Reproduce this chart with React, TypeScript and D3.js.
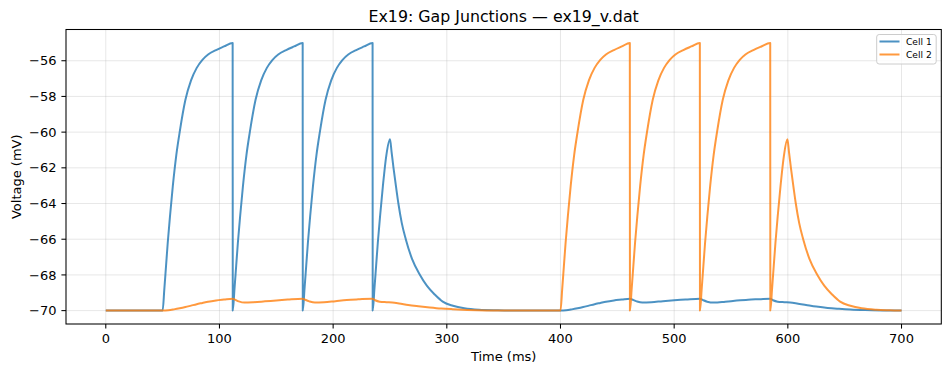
import React from "react";
import * as d3 from "d3";

// axis ticks
const xTicks = [0, 100, 200, 300, 400, 500, 600, 700];
const yTicks = [-70, -68, -66, -64, -62, -60, -58, -56];
const seriesNames = ["Cell 1", "Cell 2"];
const seriesColors = ["#1f77b4", "#ff7f0e"];

// [time ms, voltage mV]
const cell1: [number, number][] = [
  [0, -70], [50, -70],
  [51.5, -68.8], [53, -67.5], [54.5, -66.2], [56.5, -64.7], [59, -63.0], [62, -61.3], [65, -60.0], [70, -58.2],
  [75, -57.1], [80, -56.4], [85, -55.95], [90, -55.65], [97, -55.4], [104, -55.2], [111.6, -55.0], [111.7, -70],
  [113.2, -68.8], [114.7, -67.5], [116.2, -66.2], [118.2, -64.7], [120.7, -63.0], [123.7, -61.3], [126.7, -60.0],
  [131.7, -58.2], [136.7, -57.1], [141.7, -56.4], [146.7, -55.95], [151.7, -55.65], [158.7, -55.4], [165.7, -55.2],
  [173.2, -55.0], [173.3, -70],
  [174.8, -68.8], [176.3, -67.5], [177.8, -66.2], [179.8, -64.7], [182.3, -63.0], [185.3, -61.3], [188.3, -60.0],
  [193.3, -58.2], [198.3, -57.1], [203.3, -56.4], [208.3, -55.95], [213.3, -55.65], [220.3, -55.4], [227.3, -55.2],
  [234.7, -55.0], [234.8, -70],
  [236.3, -68.8], [237.8, -67.5], [239.3, -66.2], [241.3, -64.7], [243.8, -63.0], [246.8, -61.3], [250.0, -60.4],
  [251.4, -61.1], [253.1, -62.0], [255.4, -63.1], [257.4, -64.0], [260.4, -65.1], [263.9, -66.0], [269.4, -67.1],
  [276.4, -68.0], [282.4, -68.6], [289.4, -69.1], [296.4, -69.5], [305.4, -69.73], [315.4, -69.87], [328.4, -69.95],
  [345, -69.98], [370, -70], [400, -70],
  [405, -69.98], [410, -69.93], [415, -69.87], [420, -69.8], [425, -69.72], [430, -69.64], [435, -69.57],
  [440, -69.5], [447, -69.43], [454, -69.38], [461, -69.33],
  [463, -69.38], [467, -69.48], [472, -69.55], [480, -69.53], [490, -69.47], [500, -69.42], [510, -69.38], [522.6, -69.33],
  [525, -69.4], [529, -69.5], [535, -69.55], [545, -69.5], [555, -69.44], [565, -69.39], [575, -69.36], [584.5, -69.33],
  [587, -69.42], [591, -69.5], [597, -69.53], [602, -69.55], [608, -69.6], [616, -69.68], [625, -69.77], [635, -69.85],
  [645, -69.9], [655, -69.94], [668, -69.97], [685, -69.99], [700, -70],
];

const cell2: [number, number][] = [
  [0, -70], [50, -70],
  [55, -69.98], [60, -69.93], [65, -69.87], [70, -69.8], [75, -69.72], [80, -69.64], [85, -69.57], [90, -69.5],
  [97, -69.43], [104, -69.38], [111.6, -69.33],
  [113.5, -69.38], [117, -69.48], [122, -69.55], [130, -69.53], [140, -69.48], [150, -69.43], [160, -69.38], [173.2, -69.33],
  [175, -69.38], [179, -69.48], [184, -69.55], [192, -69.53], [202, -69.47], [212, -69.41], [222, -69.37], [234.7, -69.33],
  [237, -69.42], [241, -69.5], [247, -69.53], [252, -69.55], [258, -69.6], [266, -69.68], [275, -69.75], [285, -69.82],
  [295, -69.88], [305, -69.92], [318, -69.96], [335, -69.99], [360, -70], [400, -70],
  [401.5, -68.8], [403, -67.5], [404.5, -66.2], [406.5, -64.7], [409, -63.0], [412, -61.3], [415, -60.0], [420, -58.2],
  [425, -57.1], [430, -56.4], [435, -55.95], [440, -55.65], [447, -55.4], [454, -55.2], [461, -55.0], [461.1, -70],
  [462.6, -68.8], [464.1, -67.5], [465.6, -66.2], [467.6, -64.7], [470.1, -63.0], [473.1, -61.3], [476.1, -60.0],
  [481.1, -58.2], [486.1, -57.1], [491.1, -56.4], [496.1, -55.95], [501.1, -55.65], [508.1, -55.4], [515.1, -55.2],
  [522.6, -55.0], [522.7, -70],
  [524.2, -68.8], [525.7, -67.5], [527.2, -66.2], [529.2, -64.7], [531.7, -63.0], [534.7, -61.3], [537.7, -60.0],
  [542.7, -58.2], [547.7, -57.1], [552.7, -56.4], [557.7, -55.95], [562.7, -55.65], [569.7, -55.4], [576.7, -55.2],
  [584.5, -55.0], [584.6, -70],
  [586.1, -68.8], [587.6, -67.5], [589.1, -66.2], [591.1, -64.7], [593.6, -63.0], [596.6, -61.3], [599.6, -60.4],
  [601, -61.1], [602.7, -62.0], [605, -63.1], [607, -64.0], [610, -65.1], [613.5, -66.0], [619, -67.1], [626, -68.0],
  [632, -68.6], [639, -69.1], [646, -69.5], [655, -69.73], [665, -69.87], [678, -69.95], [690, -69.98], [700, -70],
];

const W = 950;
const H = 374;
const left = 66;
const right = 941.3;
const top = 29.5;
const bottom = 324;
const font = "'DejaVu Sans', sans-serif";

export default function App() {
  const x = d3.scaleLinear().domain([-35, 735]).range([left, right]);
  const y = d3.scaleLinear().domain([-70.75, -54.25]).range([bottom, top]);

  const line = d3
    .line<[number, number]>()
    .x((d) => x(d[0]))
    .y((d) => y(d[1]))
    .curve(d3.curveMonotoneX);

  const series = [cell1, cell2];
  const tickLen = 4.6;

  return (
    <svg
      width={W}
      height={H}
      style={{ position: "absolute", left: 0, top: 0, background: "#fff" }}
      fontFamily={font}
    >
      <rect x={0} y={0} width={W} height={H} fill="#fff" />
      <defs>
        <clipPath id="plot-clip">
          <rect x={left} y={top} width={right - left} height={bottom - top} />
        </clipPath>
      </defs>

      {/* grid */}
      {xTicks.map((t) => (
        <line key={"gx" + t} x1={x(t)} x2={x(t)} y1={top} y2={bottom} stroke="#b0b0b0" strokeOpacity={0.3} strokeWidth={1} />
      ))}
      {yTicks.map((t) => (
        <line key={"gy" + t} x1={left} x2={right} y1={y(t)} y2={y(t)} stroke="#b0b0b0" strokeOpacity={0.3} strokeWidth={1} />
      ))}

      {/* traces */}
      <g clipPath="url(#plot-clip)">
        {series.map((s, i) => (
          <path
            key={seriesNames[i]}
            d={line(s) || ""}
            fill="none"
            stroke={seriesColors[i]}
            strokeOpacity={0.8}
            strokeWidth={2}
            strokeLinejoin="round"
          />
        ))}
      </g>

      {/* frame */}
      <rect x={left} y={top} width={right - left} height={bottom - top} fill="none" stroke="#000" strokeWidth={1.05} />

      {/* x axis */}
      {xTicks.map((t) => (
        <g key={"xt" + t}>
          <line x1={x(t)} x2={x(t)} y1={bottom} y2={bottom + tickLen} stroke="#000" strokeWidth={1.05} />
          <text x={x(t)} y={bottom + 18.5} textAnchor="middle" fontSize={13} fill="#000">
            {t}
          </text>
        </g>
      ))}
      {/* y axis */}
      {yTicks.map((t) => (
        <g key={"yt" + t}>
          <line x1={left - tickLen} x2={left} y1={y(t)} y2={y(t)} stroke="#000" strokeWidth={1.05} />
          <text x={left - 9.5} y={y(t) + 4.6} textAnchor="end" fontSize={13} fill="#000">
            {"\u2212" + Math.abs(t)}
          </text>
        </g>
      ))}

      <text x={(left + right) / 2} y={361} textAnchor="middle" fontSize={13} fill="#000">
        Time (ms)
      </text>
      <text
        transform={`translate(21, ${(top + bottom) / 2}) rotate(-90)`}
        textAnchor="middle"
        fontSize={13}
        fill="#000"
      >
        Voltage (mV)
      </text>
      <text x={(left + right) / 2} y={21.5} textAnchor="middle" fontSize={15.8} fill="#000">
        Ex19: Gap Junctions — ex19_v.dat
      </text>

      {/* legend */}
      <g>
        <rect x={876.7} y={34.5} width={59.5} height={29.5} rx={2.5} fill="#fff" fillOpacity={0.8} stroke="#cccccc" strokeWidth={1} />
        {seriesNames.map((n, i) => (
          <g key={"lg" + n}>
            <line x1={879.5} x2={899.5} y1={41.5 + i * 13} y2={41.5 + i * 13} stroke={seriesColors[i]} strokeOpacity={0.8} strokeWidth={2} />
            <text x={906} y={44.8 + i * 13} fontSize={9.1} fill="#000">
              {n}
            </text>
          </g>
        ))}
      </g>
    </svg>
  );
}
